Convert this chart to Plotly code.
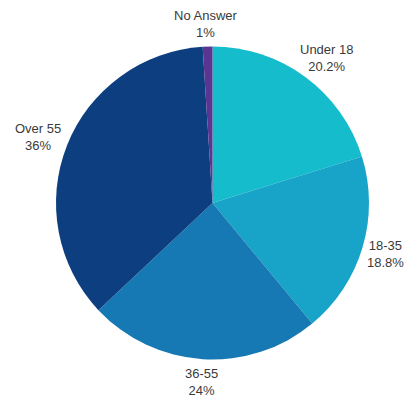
import math
import plotly.graph_objects as go

labels = ["Under 18", "18-35", "36-55", "Over 55", "No Answer"]
values = [20.2, 18.8, 24, 36, 1]
pct_text = ["20.2%", "18.8%", "24%", "36%", "1%"]
colors = ["#14bccc", "#18a3c8", "#1679b3", "#0d3f80", "#5a3592"]

W, H = 409, 398
cx, cy, R = 212.5, 203.0, 156.5
FONT_SIZE = 13

fig = go.Figure(go.Pie(
    labels=labels,
    values=values,
    sort=False,
    direction="clockwise",
    rotation=0,
    textinfo="none",
    marker=dict(colors=colors, line=dict(width=0)),
    showlegend=False,
    hoverinfo="label+percent",
    domain=dict(x=[(cx - R) / W, (cx + R) / W], y=[1 - (cy + R) / H, 1 - (cy - R) / H]),
))

# label placement derived from the slice mid-angles
total = sum(values)
cum = 0.0
annotations = []
for lab, val, pct in zip(labels, values, pct_text):
    mid = (cum + val / 2) / total * 2 * math.pi
    cum += val
    ux, uy = math.sin(mid), -math.cos(mid)
    d = R + 6
    px, py = cx + ux * d, cy + uy * d
    w = 0.56 * FONT_SIZE * max(len(lab), len(pct))
    h = 2 * 17
    bx, by = px + ux * w / 2, py + uy * h / 2
    annotations.append(dict(
        x=bx / W, y=1 - by / H, xref="paper", yref="paper",
        text=f"{lab}<br>{pct}", showarrow=False,
        xanchor="center", yanchor="middle", align="center",
        font=dict(family="Liberation Sans, Arial, sans-serif", size=FONT_SIZE, color="#3a3a3a"),
    ))

fig.update_layout(
    width=W, height=H,
    margin=dict(l=0, r=0, t=0, b=0),
    paper_bgcolor="white",
    plot_bgcolor="white",
    annotations=annotations,
)

fig.write_html(
    "out.html",
    config={"displayModeBar": False},
    post_script="document.body.style.margin='0';document.body.style.overflow='hidden';",
)
